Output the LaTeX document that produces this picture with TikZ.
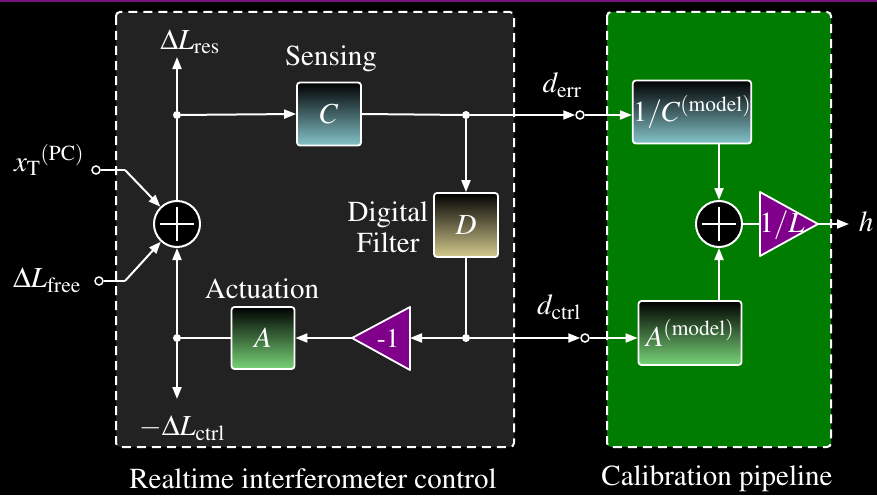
\documentclass[tikz,border=0pt]{standalone}
\usepackage[T1]{fontenc}
\usepackage{mathptmx}
\usetikzlibrary{arrows.meta,calc}
\definecolor{boxgray}{RGB}{34,34,34}
\definecolor{calgreen}{RGB}{0,124,0}
\definecolor{topband}{RGB}{120,20,120}
\definecolor{tripurple}{RGB}{128,0,140}
\definecolor{ccol}{RGB}{132,196,202}
\definecolor{acol}{RGB}{120,212,120}
\definecolor{dcol}{RGB}{212,202,142}
\tikzset{
  dashbox/.style={draw=white, line width=2pt, dash pattern=on 9pt off 6pt, rounded corners=4pt},
  blockbox/.style={draw=white, line width=1.8pt, rounded corners=3pt, inner sep=0pt, text=white, top color=black},
  sumc/.style={circle, draw=white, fill=black, line width=2pt, minimum size=46pt, inner sep=0pt},
  jdot/.style={circle, fill=white, inner sep=0pt, minimum size=8pt},
  term/.style={circle, draw=white, fill=black, line width=1.5pt, minimum size=8pt, inner sep=0pt},
  wire/.style={white, line width=2pt},
  arr/.style={white, line width=2pt, -{Triangle[length=12pt,width=9pt]}},
  lbl/.style={text=white, inner sep=0pt},
  tri/.style={draw=white, line width=1.8pt, fill=tripurple, line join=round},
  plusl/.style={white, line width=1.8pt}
}
\begin{document}
\begin{tikzpicture}[x=1pt,y=-1pt, font=\fontsize{29}{31}\selectfont]
\useasboundingbox (0,0) rectangle (877,495);
\fill[black] (0,0) rectangle (877,495);
\fill[topband] (0,0) rectangle (877,2.5);

% group boxes
\draw[dashbox, fill=boxgray] (116,12) rectangle (514,447);
\draw[dashbox, fill=calgreen] (607,12) rectangle (831,447);
\node[lbl] (lblRT) at (313,479) {Realtime interferometer control};
\node[lbl] (lblCP) at (717,479) {Calibration pipeline};

% blocks
\node[blockbox, bottom color=ccol, minimum width=64pt, minimum height=63pt] (C) at (329,114) {$C$};
\node[blockbox, bottom color=dcol, minimum width=64pt, minimum height=64pt] (D) at (466,225) {$D$};
\node[blockbox, bottom color=acol, minimum width=63pt, minimum height=62pt] (A) at (263,338) {$A$};
\node[blockbox, bottom color=ccol, minimum width=106pt, minimum height=63pt] (Cm) at (692,112) {$1/C^{(\mathrm{model})}$};
\node[blockbox, bottom color=acol, minimum width=103pt, minimum height=64pt] (Am) at (690,333) {$A^{(\mathrm{model})}$};

% block labels
\node[lbl] (lSens) at (331,59) {Sensing};
\node[lbl] (lAct) at (262,289) {Actuation};
\node[lbl, align=center, font=\fontsize{29}{31}\selectfont] (lDig) at (388,227) {Digital\\Filter};

% sum circles
\node[sumc] (S1) at (177,224) {};
\draw[plusl] ($(S1)+(-17,0)$) -- ($(S1)+(17,0)$);
\draw[plusl] ($(S1)+(0,-17)$) -- ($(S1)+(0,17)$);
\node[sumc] (S2) at (719,224) {};
\draw[plusl] ($(S2)+(-17,0)$) -- ($(S2)+(17,0)$);
\draw[plusl] ($(S2)+(0,-17)$) -- ($(S2)+(0,17)$);

% gain triangles
\coordinate (negR) at (410,338);
\coordinate (negT) at (352,338);
\draw[tri] (410,307) -- (410,370) -- (negT) -- cycle;
\node[lbl, font=\fontsize{27}{29}\selectfont] (negL) at (388,338) {-1};
\coordinate (LB) at (760,224);
\coordinate (LT) at (818,224);
\draw[tri] (760,192) -- (760,256) -- (LT) -- cycle;
\node[lbl] (invL) at (782,225) {$1/L$};

% junctions and terminals
\node[jdot] (J1) at (177,115) {};
\node[jdot] (J2) at (466,115) {};
\node[jdot] (J3) at (466,338) {};
\node[jdot] (J4) at (177,338) {};
\node[term] (Tx) at (96,170) {};
\node[term] (Tf) at (99,281) {};
\node[term] (Terr) at (580,115) {};
\node[term] (Tctrl) at (585,338) {};
\coordinate (kx) at (125,170);
\coordinate (kf) at (125,281);
\coordinate (resEnd) at (177,57);
\coordinate (ctrlEnd) at (177,399);
\coordinate (hEnd) at (849,224);

% signal labels
\node[lbl] (lres) at (190,42) {$\Delta L_{\mathrm{res}}$};
\node[lbl] (lx) at (49,160) {${x_{\mathrm{T}}}^{(\mathrm{PC})}$};
\node[lbl] (lfree) at (47,280) {$\Delta L_{\mathrm{free}}$};
\node[lbl] (lctrl) at (182,428) {$-\Delta L_{\mathrm{ctrl}}$};
\node[lbl] (lerr) at (562,85) {$d_{\mathrm{err}}$};
\node[lbl] (ldctrl) at (559,307) {$d_{\mathrm{ctrl}}$};
\node[lbl] (lh) at (866,222) {$h$};

% connectors
\draw[wire] (S1) -- (J1);
\draw[arr] (J1) -- (resEnd);
\draw[arr] (J1) -- (C.west);
\draw[wire] (C.east) -- (J2);
\draw[arr] (J2) -- (Terr);
\draw[arr] (Terr) -- (Terr -| Cm.west);
\draw[arr] (J2) -- (D.north);
\draw[wire] (D.south) -- (J3);
\draw[arr] (J3) -- (negR);
\draw[arr] (negT) -- (A.east);
\draw[wire] (A.west) -- (J4);
\draw[arr] (J4) -- (S1.south);
\draw[arr] (J4) -- (ctrlEnd);
\draw[arr] (J3) -- (Tctrl);
\draw[arr] (Tctrl) -- (Tctrl -| Am.west);
\draw[wire] (Tx) -- (kx);
\draw[arr] (kx) -- (S1);
\draw[wire] (Tf) -- (kf);
\draw[arr] (kf) -- (S1);
\draw[arr] (S2 |- Cm.south) -- (S2.north);
\draw[arr] (S2 |- Am.north) -- (S2.south);
\draw[wire] (S2.east) -- (LB);
\draw[arr] (LT) -- (hEnd);
\end{tikzpicture}
\end{document}
